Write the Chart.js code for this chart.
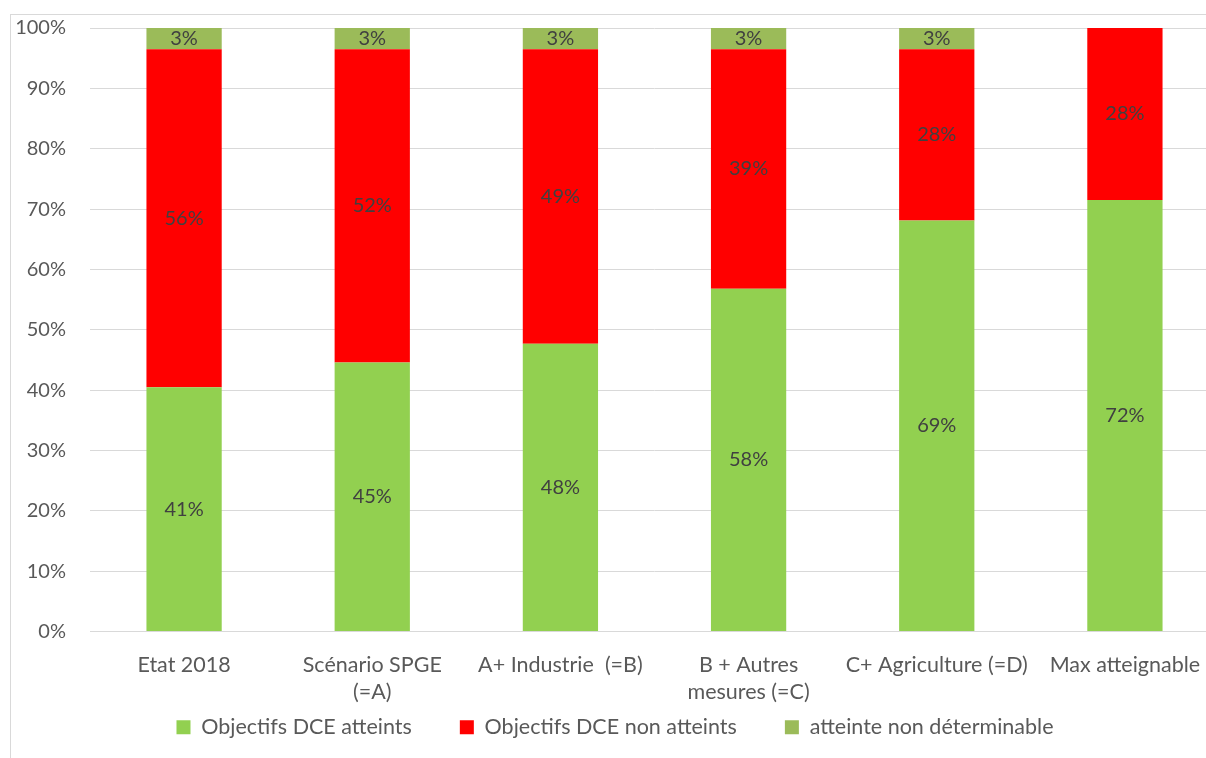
<!DOCTYPE html>
<html>
<head>
<meta charset="utf-8">
<script src="https://cdn.jsdelivr.net/npm/chart.js@4/dist/chart.umd.min.js"></script>
<style>
  html, body { margin: 0; padding: 0; background: #fff; overflow: hidden; width: 1206px; height: 758px; }
  #frame { position: absolute; left: 10px; top: 14px; width: 1220px; height: 800px; border: 1px solid #d9d9d9; }
  #box { position: relative; top: -23px; width: 1218px; height: 825px; }
</style>
</head>
<body>
<div id="frame"><div id="box"><canvas id="chart"></canvas></div></div>
<script>
// Scenarios on the x axis
const categories = [
  "Etat 2018",
  ["Scénario SPGE", "(=A)"],
  "A+ Industrie  (=B)",
  ["B + Autres", "mesures (=C)"],
  "C+ Agriculture (=D)",
  "Max atteignable"
];

// Share of each scenario (percent of the 100% stack)
const atteints     = [40.5, 44.6, 47.7, 56.8, 68.1, 71.5];
const nonAtteints  = [56.0, 51.9, 48.8, 39.7, 28.4, 28.5];
const indetermine  = [3.5, 3.5, 3.5, 3.5, 3.5, 0];

// Labels printed on the bars in the original
const lblAtteints    = ["41%", "45%", "48%", "58%", "69%", "72%"];
const lblNonAtteints = ["56%", "52%", "49%", "39%", "28%", "28%"];
const lblIndetermine = ["3%", "3%", "3%", "3%", "3%", ""];

const yTicks = [0, 10, 20, 30, 40, 50, 60, 70, 80, 90, 100];

const FONT = "Lato";

// value label in the middle of each segment
const segmentLabels = {
  id: "segmentLabels",
  afterDatasetsDraw(chart) {
    const ctx = chart.ctx;
    ctx.save();
    ctx.font = "20px " + FONT;
    ctx.fillStyle = "#404040";
    ctx.textAlign = "center";
    ctx.textBaseline = "middle";
    chart.data.datasets.forEach((ds, i) => {
      const meta = chart.getDatasetMeta(i);
      meta.data.forEach((bar, j) => {
        const txt = ds.labelsOnBar[j];
        if (!txt) return;
        ctx.fillText(txt, bar.x, (bar.y + bar.base) / 2);
      });
    });
    ctx.restore();
  }
};

// pull the legend up closer to the axis labels (wide item spacing, small gap above)
const legendUp = {
  id: "legendUp",
  afterLayout(chart) {
    const lg = chart.legend;
    const shift = lg.top - (chart.chartArea.bottom + 37);
    lg.top -= shift;
    lg.bottom -= shift;
  }
};

new Chart(document.getElementById("chart").getContext("2d"), {
  type: "bar",
  data: {
    labels: categories,
    datasets: [
      { label: "Objectifs DCE atteints", data: atteints, backgroundColor: "#92D050", labelsOnBar: lblAtteints },
      { label: "Objectifs DCE non atteints", data: nonAtteints, backgroundColor: "#FF0000", labelsOnBar: lblNonAtteints },
      { label: "atteinte non déterminable", data: indetermine, backgroundColor: "#9BBB59", labelsOnBar: lblIndetermine }
    ]
  },
  options: {
    responsive: true,
    maintainAspectRatio: false,
    animation: false,
    datasets: { bar: { categoryPercentage: 0.8, barPercentage: 0.5 } },
    layout: { padding: { top: 13, right: 10, bottom: 12, left: 0 } },
    scales: {
      x: {
        stacked: true,
        grid: { display: false, drawTicks: false },
        border: { color: "#d9d9d9", width: 1 },
        ticks: { color: "#595959", font: { family: FONT, size: 21.5, lineHeight: 1.3 }, padding: 19, maxRotation: 0, autoSkip: false }
      },
      y: {
        stacked: true,
        min: 0,
        max: 100,
        afterBuildTicks: (s) => { s.ticks = yTicks.map(v => ({ value: v })); },
        afterFit: (s) => { s.width = 79; },
        grid: { color: "#d9d9d9", lineWidth: 1, drawTicks: false },
        border: { display: false },
        ticks: { color: "#595959", font: { family: FONT, size: 20 }, padding: 24, callback: v => v + "%" }
      }
    },
    plugins: {
      legend: {
        position: "bottom",
        labels: { color: "#595959", font: { family: FONT, size: 21.5 }, boxWidth: 14, boxHeight: 14, padding: 48 }
      },
      tooltip: { enabled: false }
    }
  },
  plugins: [segmentLabels, legendUp]
});
</script>
</body>
</html>
